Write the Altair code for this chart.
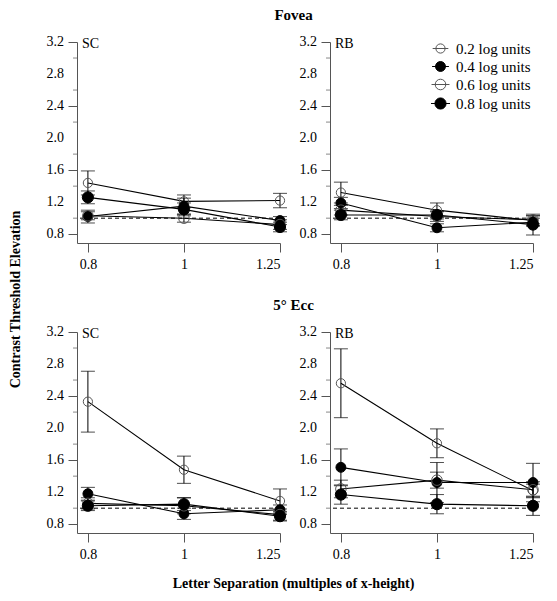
import altair as alt
import pandas as pd

# ---------------- data ----------------
separations = [0.8, 1.0, 1.25]
levels = ["0.2 log units", "0.4 log units", "0.6 log units", "0.8 log units"]
y_major = [0.8, 1.2, 1.6, 2.0, 2.4, 2.8, 3.2]
y_minor = [1.0, 1.4, 1.8, 2.2, 2.6, 3.0]
baseline_level = [1.0]

# Fovea, observer SC
fov_sc_02 = [1.44, 1.21, 1.22]; fov_sc_02_err = [0.15, 0.08, 0.09]
fov_sc_04 = [1.02, 1.15, 0.97]; fov_sc_04_err = [0.08, 0.10, 0.05]
fov_sc_06 = [1.03, 1.00, 0.92]; fov_sc_06_err = [0.05, 0.05, 0.06]
fov_sc_08 = [1.26, 1.11, 0.89]; fov_sc_08_err = [0.08, 0.08, 0.06]

# Fovea, observer RB
fov_rb_02 = [1.32, 1.10, 0.97]; fov_rb_02_err = [0.13, 0.09, 0.06]
fov_rb_04 = [1.19, 0.88, 0.95]; fov_rb_04_err = [0.07, 0.05, 0.05]
fov_rb_06 = [1.10, 1.02, 0.98]; fov_rb_06_err = [0.06, 0.06, 0.05]
fov_rb_08 = [1.04, 1.04, 0.92]; fov_rb_08_err = [0.06, 0.05, 0.13]

# 5 deg eccentricity, observer SC
ecc_sc_02 = [2.33, 1.48, 1.09]; ecc_sc_02_err = [0.38, 0.17, 0.15]
ecc_sc_04 = [1.18, 0.93, 0.98]; ecc_sc_04_err = [0.08, 0.07, 0.06]
ecc_sc_06 = [1.06, 1.03, 0.92]; ecc_sc_06_err = [0.07, 0.10, 0.07]
ecc_sc_08 = [1.03, 1.05, 0.90]; ecc_sc_08_err = [0.06, 0.08, 0.06]

# 5 deg eccentricity, observer RB
ecc_rb_02 = [2.56, 1.81, 1.22]; ecc_rb_02_err = [0.43, 0.18, 0.08]
ecc_rb_04 = [1.51, 1.32, 1.32]; ecc_rb_04_err = [0.23, 0.25, 0.24]
ecc_rb_06 = [1.24, 1.35, 1.23]; ecc_rb_06_err = [0.11, 0.10, 0.10]
ecc_rb_08 = [1.17, 1.05, 1.03]; ecc_rb_08_err = [0.12, 0.12, 0.12]

panels = {
    ("Fovea", "SC"): [(fov_sc_02, fov_sc_02_err), (fov_sc_04, fov_sc_04_err),
                      (fov_sc_06, fov_sc_06_err), (fov_sc_08, fov_sc_08_err)],
    ("Fovea", "RB"): [(fov_rb_02, fov_rb_02_err), (fov_rb_04, fov_rb_04_err),
                      (fov_rb_06, fov_rb_06_err), (fov_rb_08, fov_rb_08_err)],
    ("Ecc", "SC"): [(ecc_sc_02, ecc_sc_02_err), (ecc_sc_04, ecc_sc_04_err),
                    (ecc_sc_06, ecc_sc_06_err), (ecc_sc_08, ecc_sc_08_err)],
    ("Ecc", "RB"): [(ecc_rb_02, ecc_rb_02_err), (ecc_rb_04, ecc_rb_04_err),
                    (ecc_rb_06, ecc_rb_06_err), (ecc_rb_08, ecc_rb_08_err)],
}

rows = []
for (region, obs), series in panels.items():
    for lvl, (means, errs) in zip(levels, series):
        for s, m, e in zip(separations, means, errs):
            rows.append({"region": region, "obs": obs, "level": lvl, "sep": s,
                         "mean": m, "lo": m - e, "hi": m + e})
df = pd.DataFrame(rows)
ref_df = pd.DataFrame({"v": baseline_level})
minor_df = pd.DataFrame({"v": y_minor})
major_df = pd.DataFrame({"v": y_major, "txt": [f"{v:.1f}" for v in y_major]})

FONT = "Liberation Serif"
W, H = 203, 201

x_scale = alt.Scale(type="log", domain=[0.78, 1.25], nice=False)
y_scale = alt.Scale(domain=[0.69, 3.2], nice=False, zero=False)

x_axis = alt.Axis(values=separations, format="~g", title=None, tickSize=9,
                  labelPadding=5, labelOverlap=False)
y_axis = alt.Axis(values=y_major, title=None, labels=False, tickSize=9)

fill_scale = alt.Scale(domain=levels, range=["transparent", "black", "transparent", "black"])
stroke_scale = alt.Scale(domain=levels, range=["#555555", "black", "#555555", "black"])
size_scale = alt.Scale(domain=levels, range=[85, 125, 150, 240])


def panel(region, obs, legend):
    d = df[(df.region == region) & (df.obs == obs)]
    base = alt.Chart(d)
    X = alt.X("sep:Q", scale=x_scale, axis=x_axis)
    if legend:
        lg = alt.Legend(title=None, orient="none", legendX=103, legendY=-1,
                        symbolType="M-1,0A1,1,0,1,1,1,0A1,1,0,1,1,-1,0Z M-1.7,0H1.7",
                        symbolStrokeWidth=1, labelFont=FONT, labelFontSize=15,
                        labelColor="black", rowPadding=2, labelOffset=8)
    else:
        lg = None
    ref = alt.Chart(ref_df).mark_rule(strokeDash=[4, 3], color="black", strokeWidth=1).encode(
        y=alt.Y("v:Q", scale=y_scale, axis=y_axis))
    minor = alt.Chart(minor_df).mark_tick(
        orient="horizontal", size=4, thickness=1, color="#555555").encode(
        x=alt.value(-2), y=alt.Y("v:Q", scale=y_scale, axis=y_axis))
    ylabels = alt.Chart(major_df).mark_text(
        align="right", baseline="middle", font=FONT, fontSize=14, color="black").encode(
        x=alt.value(-13), y=alt.Y("v:Q", scale=y_scale, axis=y_axis), text="txt:N")
    bars = base.mark_rule(color="black", strokeWidth=1).encode(
        x=X, y=alt.Y("lo:Q", scale=y_scale, axis=y_axis), y2="hi:Q")
    caps = base.transform_fold(["lo", "hi"], as_=["k", "v"]).mark_tick(
        orient="horizontal", size=14, thickness=1, color="black").encode(
        x=X, y=alt.Y("v:Q", scale=y_scale, axis=y_axis))
    lines = base.mark_line(color="black", strokeWidth=1.1).encode(
        x=X, y=alt.Y("mean:Q", scale=y_scale, axis=y_axis), detail="level:N",
        order="sep:Q")
    pts = base.mark_point(opacity=1, strokeWidth=1).encode(
        x=X, y=alt.Y("mean:Q", scale=y_scale, axis=y_axis),
        fill=alt.Fill("level:N", scale=fill_scale, legend=lg),
        stroke=alt.Stroke("level:N", scale=stroke_scale, legend=lg),
        size=alt.Size("level:N", scale=size_scale, legend=lg),
    )
    lab = alt.Chart(pd.DataFrame({"t": [obs]})).mark_text(
        align="left", baseline="middle", font=FONT, fontSize=14, dx=5, dy=2, color="black"
    ).encode(x=alt.datum(0.78, scale=x_scale), y=alt.datum(3.2, scale=y_scale), text="t:N")
    return alt.layer(ref, minor, ylabels, bars, caps, lines, pts, lab).properties(
        width=W, height=H)


def row(region, title, legend_right):
    return alt.hconcat(panel(region, "SC", False), panel(region, "RB", legend_right),
                       spacing=11).resolve_legend(
        fill="independent", stroke="independent", size="independent").properties(
        title=alt.TitleParams(title, anchor="middle", font=FONT, fontSize=15,
                              fontWeight="bold", offset=12))


body = alt.vconcat(row("Fovea", "Fovea", True), row("Ecc", "5° Ecc", False),
                   spacing=27).resolve_legend(
    fill="independent", stroke="independent", size="independent").properties(
    title=alt.TitleParams("Letter Separation (multiples of x-height)", orient="bottom",
                          anchor="middle", font=FONT, fontSize=14, fontWeight="bold",
                          offset=16))

chart = alt.hconcat(body).resolve_legend(
    fill="independent", stroke="independent", size="independent").properties(
    title=alt.TitleParams("Contrast Threshold Elevation", orient="left", anchor="middle",
                          font=FONT, fontSize=14, fontWeight="bold", offset=24),
    padding={"left": 0, "top": 0, "right": 0, "bottom": 0},
).configure_view(stroke=None).configure_axis(
    grid=False, domainColor="#555555", tickColor="#555555", domainWidth=1, tickWidth=1,
    labelFont=FONT, labelFontSize=14, labelColor="black", labelOverlap=False,
)

chart.save("out.html", embed_options={"renderer": "svg", "actions": False})
